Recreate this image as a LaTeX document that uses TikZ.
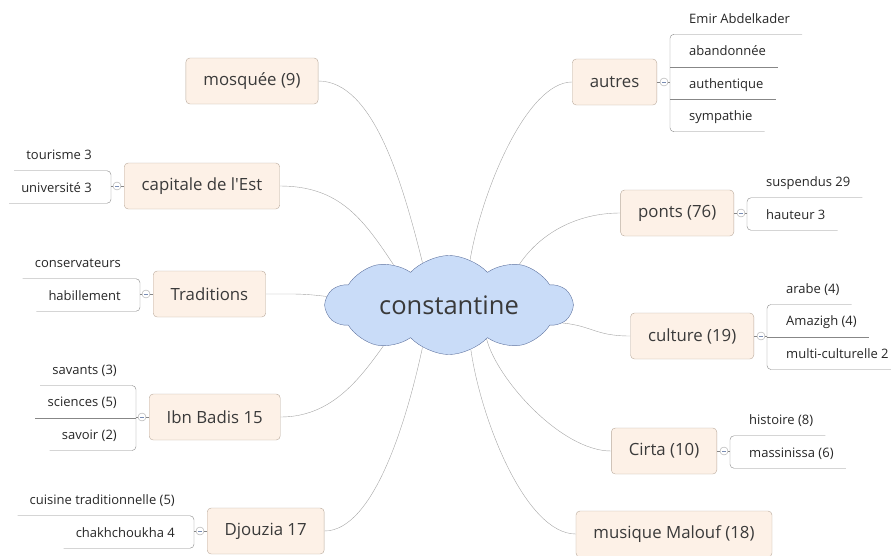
\documentclass[tikz,border=0pt]{standalone}
\usepackage{fontspec}
\setmainfont{Open Sans}[Ligatures=TeXOff]
\usetikzlibrary{shapes.symbols,backgrounds}
\definecolor{nuage}{RGB}{201,220,248}
\definecolor{bordnuage}{RGB}{96,116,160}
\definecolor{creme}{RGB}{253,241,231}
\definecolor{brun}{RGB}{185,170,156}
\definecolor{branche}{RGB}{165,165,165}
\definecolor{souligne}{RGB}{135,135,135}
\definecolor{gristexte}{RGB}{58,58,58}
\definecolor{bleupli}{RGB}{120,140,180}

\begin{document}
\begin{tikzpicture}[x=1pt,y=-1pt,
  theme/.style={draw=brun,fill=creme,rounded corners=4pt,minimum height=46pt,inner xsep=17.5pt,text=gristexte,font=\fontsize{16.8}{19}\selectfont},
  feuille/.style={inner xsep=12pt,inner ysep=8pt,text height=10pt,text depth=3pt,text=black!85,font=\fontsize{13}{15}\selectfont},
  lien/.style={draw=branche,thin},
  trait/.style={draw=souligne,thin,rounded corners=4pt},
  pli/.style={circle,draw=branche,fill=white,inner sep=0pt,minimum size=8pt,
    path picture={\draw[bleupli] ([xshift=-2pt]path picture bounding box.center) -- ([xshift=2pt]path picture bounding box.center);}}]
\useasboundingbox (0,0) rectangle (891,555);
\node[cloud,cloud puffs=10,cloud puff arc=95,aspect=2.6,minimum width=246pt,minimum height=95pt,inner sep=0pt,draw=bordnuage,fill=nuage,text=gristexte,font=\fontsize{25.5}{28}\selectfont] (c) at (449,305) {constantine};
\node[theme] (mo) at (252,81) {mosquée (9)};
\node[theme,anchor=west] (ca) at (124,186) {capitale de l'Est};
\node[theme,anchor=west] (tr) at (153,294) {Traditions};
\node[theme,anchor=west] (ib) at (149,417) {Ibn Badis 15};
\node[theme,anchor=west] (dj) at (207,531) {Djouzia 17};
\node[theme,anchor=east] (au) at (657,82) {autres};
\node[theme,anchor=east] (po) at (734,213) {ponts (76)};
\node[theme,anchor=east] (cu) at (754,336) {culture (19)};
\node[theme,anchor=east] (ci) at (717,451) {Cirta (10)};
\node[theme] (mu) at (674,534) {musique Malouf (18)};
\begin{scope}[on background layer]
\draw[lien] (mo.east) .. controls +(55,0) and +(-20,-80) .. (c.122);
\draw[lien] (ca.east) .. controls +(60,0) and +(-30,-45) .. (c.144);
\draw[lien] (tr.east) .. controls +(30,0) and +(-25,-3) .. (c.176);
\draw[lien] (ib.east) .. controls +(50,0) and +(-25,35) .. (c.212);
\draw[lien] (dj.east) .. controls +(50,0) and +(-15,70) .. (c.238);
\draw[lien] (au.west) .. controls +(-45,0) and +(12,-70) .. (c.65);
\draw[lien] (po.west) .. controls +(-45,0) and +(20,-30) .. (c.30);
\draw[lien] (cu.west) .. controls +(-35,0) and +(30,3) .. (c.351);
\draw[lien] (ci.west) .. controls +(-50,0) and +(10,40) .. (c.318);
\draw[lien] (mu.west) .. controls +(-50,0) and +(10,70) .. (c.296);
\end{scope}
\node[pli] (caf) at ([xshift=-7pt]ca.west) {};
\coordinate (cab) at ([xshift=-13pt]ca.west);
\foreach \t [count=\i] in {tourisme 3,université 3}
  \node[feuille,anchor=south east] (ca\i) at ([shift={(-7,{(\i-1.5)*32.5+1})}]cab) {\t};
\draw[trait] (ca1.south west) -| (cab) |- (ca2.south west);
\draw[trait] (ca) -- (caf) -- (cab);
\node[pli] (trf) at ([xshift=-7pt]tr.west) {};
\coordinate (trb) at ([xshift=-13pt]tr.west);
\foreach \t [count=\i] in {conservateurs,habillement}
  \node[feuille,anchor=south east] (tr\i) at ([shift={(-7,{(\i-1.5)*32.5+1})}]trb) {\t};
\draw[trait] (tr1.south west) -| (trb) |- (tr2.south west);
\draw[trait] (tr) -- (trf) -- (trb);
\node[pli] (ibf) at ([xshift=-7pt]ib.west) {};
\coordinate (ibb) at ([xshift=-13pt]ib.west);
\foreach \t [count=\i] in {savants (3),sciences (5),savoir (2)}
  \node[feuille,anchor=south east] (ib\i) at ([shift={(-7,{(\i-2)*32.5+1})}]ibb) {\t};
\draw[trait] (ib1.south west) -| (ibb) |- (ib3.south west);
\draw[trait] (ibb |- ib2.south) -- (ib2.south west);
\draw[trait] (ib) -- (ibf) -- (ibb);
\node[pli] (djf) at ([xshift=-7pt]dj.west) {};
\coordinate (djb) at ([xshift=-13pt]dj.west);
\foreach \t [count=\i] in {cuisine traditionnelle (5),chakhchoukha 4}
  \node[feuille,anchor=south east] (dj\i) at ([shift={(-7,{(\i-1.5)*32.5+1})}]djb) {\t};
\draw[trait] (dj1.south west) -| (djb) |- (dj2.south west);
\draw[trait] (dj) -- (djf) -- (djb);
\node[pli] (auf) at ([xshift=7pt]au.east) {};
\coordinate (aub) at ([xshift=13pt]au.east);
\foreach \t [count=\i] in {Emir Abdelkader,abandonnée,authentique,sympathie}
  \node[feuille,anchor=south west] (au\i) at ([shift={(7,{(\i-2.5)*32.5+1})}]aub) {\t};
\draw[trait] (au1.south east) -| (aub) |- (au4.south east);
\foreach \i in {2,3} \draw[trait] (aub |- au\i.south) -- (au\i.south east);
\draw[trait] (au) -- (auf) -- (aub);
\node[pli] (pof) at ([xshift=7pt]po.east) {};
\coordinate (pob) at ([xshift=13pt]po.east);
\foreach \t [count=\i] in {suspendus 29,hauteur 3}
  \node[feuille,anchor=south west] (po\i) at ([shift={(7,{(\i-1.5)*32.5+1})}]pob) {\t};
\draw[trait] (po1.south east) -| (pob) |- (po2.south east);
\draw[trait] (po) -- (pof) -- (pob);
\node[pli] (cuf) at ([xshift=7pt]cu.east) {};
\coordinate (cub) at ([xshift=13pt]cu.east);
\foreach \t [count=\i] in {arabe (4),Amazigh (4),multi-culturelle 2}
  \node[feuille,anchor=south west] (cu\i) at ([shift={(7,{(\i-2)*32.5+1})}]cub) {\t};
\draw[trait] (cu1.south east) -| (cub) |- (cu3.south east);
\draw[trait] (cub |- cu2.south) -- (cu2.south east);
\draw[trait] (cu) -- (cuf) -- (cub);
\node[pli] (cif) at ([xshift=7pt]ci.east) {};
\coordinate (cib) at ([xshift=13pt]ci.east);
\foreach \t [count=\i] in {histoire (8),massinissa (6)}
  \node[feuille,anchor=south west] (ci\i) at ([shift={(7,{(\i-1.5)*32.5+1})}]cib) {\t};
\draw[trait] (ci1.south east) -| (cib) |- (ci2.south east);
\draw[trait] (ci) -- (cif) -- (cib);
\end{tikzpicture}
\end{document}
